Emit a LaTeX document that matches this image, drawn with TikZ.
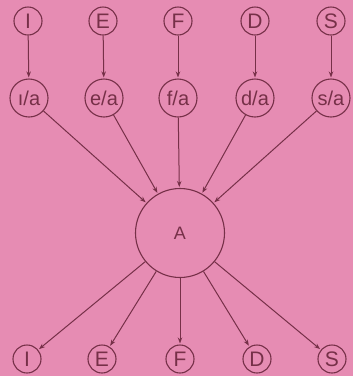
\documentclass[tikz,border=0pt]{standalone}
\usepackage{fontspec}
\setmainfont{Liberation Sans}
\usetikzlibrary{arrows.meta}
\definecolor{bgpink}{RGB}{230,140,179}
\definecolor{ink}{RGB}{118,48,72}
\begin{document}
\begin{tikzpicture}[x=1pt,y=-1pt,
  small/.style={circle,draw=ink,line width=1.1pt,minimum size=28pt,inner sep=0pt,text=ink,font=\fontsize{21}{21}\selectfont},
  mid/.style={circle,draw=ink,line width=1.1pt,minimum size=38pt,inner sep=0pt,text=ink,font=\fontsize{20}{20}\selectfont},
  big/.style={circle,draw=ink,line width=1.1pt,minimum size=89pt,inner sep=0pt,text=ink,font=\fontsize{18}{18}\selectfont},
  conn/.style={draw=ink,line width=1pt,-{Stealth[length=6pt,width=4.5pt]},shorten >=1pt}]
\fill[bgpink] (0,0) rectangle (353,376);
\useasboundingbox (0,0) rectangle (353,376);
\node[small] (tI) at (28,21) {I};
\node[small] (tE) at (103,21) {E};
\node[small] (tF) at (178,21) {F};
\node[small] (tD) at (255,21) {D};
\node[small] (tS) at (331,21) {S};
\node[mid] (mI) at (29,98) {ı/a};
\node[mid] (mE) at (104,98) {e/a};
\node[mid] (mF) at (178,98) {f/a};
\node[mid] (mD) at (255,98) {d/a};
\node[mid] (mS) at (331,98) {s/a};
\node[big] (A) at (180,233) {A};
\node[small] (bI) at (27,359) {I};
\node[small] (bE) at (102,359) {E};
\node[small] (bF) at (180,359) {F};
\node[small] (bD) at (257,359) {D};
\node[small] (bS) at (332,359) {S};
\foreach \n in {I,E,F,D,S} {
  \draw[conn] (t\n) -- (m\n);
  \draw[conn] (m\n) -- (A);
  \draw[conn] (A) -- (b\n);
}
\end{tikzpicture}
\end{document}
